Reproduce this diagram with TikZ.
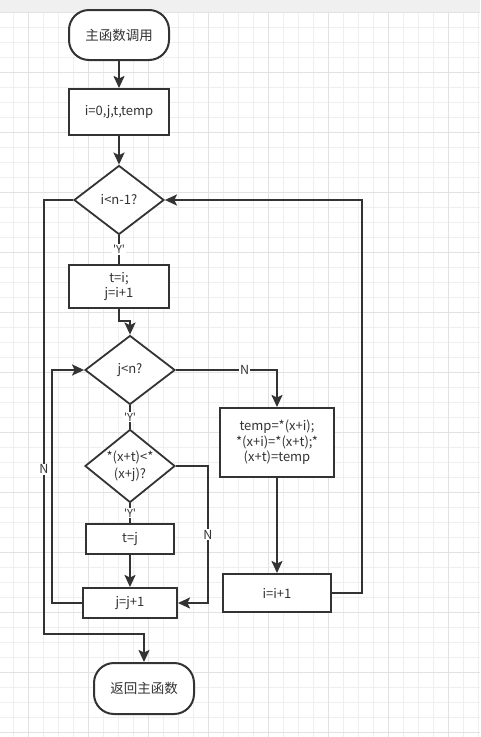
\documentclass[tikz,border=0pt]{standalone}
\usepackage{fontspec}
\setmainfont{Noto Sans CJK SC}
\usetikzlibrary{shapes.geometric, arrows.meta, positioning}
\definecolor{linegray}{HTML}{333333}
\definecolor{gridlight}{HTML}{EFEFEF}
\definecolor{griddark}{HTML}{E2E2E2}
\definecolor{topband}{HTML}{F0F0F0}
\tikzstyle{startstop} = [
    rectangle, 
    rounded corners=20pt, 
    minimum width=100pt, 
    minimum height=50pt,
    text centered, 
    draw=linegray, 
    line width=2pt,
    fill=white,
    text=linegray,
    font=\fontsize{13.5}{16}\selectfont
]
\tikzstyle{process} = [
    rectangle, 
    minimum width=100pt, 
    minimum height=46pt, 
    align=center, 
    draw=linegray, 
    line width=2pt,
    fill=white,
    text=linegray,
    font=\fontsize{13}{15.5}\selectfont
]
\tikzstyle{decision} = [
    diamond, 
    minimum width=90pt, 
    minimum height=69pt, 
    inner sep=-1pt,
    align=center, 
    draw=linegray, 
    line width=1.8pt,
    fill=white,
    text=linegray,
    font=\fontsize{13}{16.5}\selectfont
]
\tikzstyle{arrow} = [line width=2pt, draw=linegray, -{Stealth[length=12pt,width=11pt,inset=2.5pt]}]
\tikzstyle{line} = [line width=2pt, draw=linegray]
\tikzstyle{yeslabel} = [fill=white, inner sep=1pt, text=linegray, font=\fontsize{11}{12}\selectfont]
\tikzstyle{nolabel} = [fill=white, inner sep=1pt, text=linegray, font=\fontsize{12.5}{14}\selectfont]

\begin{document}
\begin{tikzpicture}[x=1pt, y=-1pt, node distance=80pt]

\useasboundingbox (0,0) rectangle (480,737);

% Grid
\fill[white] (0,0) rectangle (480,737);
\fill[topband] (0,0) rectangle (480,12);
\foreach \gx in {13,28,...,478} \draw[gridlight, line width=1pt] (\gx,12) -- (\gx,737);
\foreach \gy in {12,27,...,737} \draw[gridlight, line width=1pt] (0,\gy) -- (480,\gy);
\foreach \gx in {28,88,...,448} \draw[griddark, line width=1pt] (\gx,12) -- (\gx,737);
\foreach \gy in {12,72,...,732} \draw[griddark, line width=1pt] (0,\gy) -- (480,\gy);

% Nodes
\node (start) [startstop] at (119,35) {主函数调用};
\node (init) [process, below of=start, yshift=3pt] {i=0,j,t,temp};
\node (dec1) [decision, below of=init, yshift=-8pt] {i<n-1?};
\node (tset) [process, below of=dec1, yshift=-6.5pt, minimum height=43pt] {t=i;\\ j=i+1};
\node (dec2) [decision, below of=tset, xshift=11pt, yshift=-3.5pt] {j<n?};
\node (dec3) [decision, below of=dec2, yshift=-16pt] {*(x+t)<*\\ (x+j)?};
\node (tj) [process, below of=dec3, yshift=7pt, minimum width=88pt, minimum height=30pt] {t=j};
\node (jinc) [process, below of=tj, yshift=16pt, minimum width=94pt, minimum height=30pt] {j=j+1};
\node (swap) [process, right of=dec2, xshift=67pt, yshift=-72.5pt, minimum width=114pt, minimum height=69pt] {temp=*(x+i);\\ *(x+i)=*(x+t);*\\ (x+t)=temp};
\node (iinc) [process, below of=swap, yshift=-70.5pt, minimum width=108pt, minimum height=38pt] {i=i+1};
\node (stop) [startstop, below of=jinc, xshift=14pt, yshift=-5.5pt, minimum height=51pt] {返回主函数};
\coordinate (exitturn) at (44,634);

% Arrows
\draw [arrow] (start) -- (init);
\draw [arrow] (init) -- (dec1);
\draw [line] (dec1) -- node[yeslabel] {\textquotesingle Y\textquotesingle} (tset);
\draw [arrow] (tset.south) -- ++(0,12) -| (dec2.north);
\draw [line] (dec2) -- node[yeslabel] {\textquotesingle Y\textquotesingle} (dec3);
\draw [line] (dec3) -- node[yeslabel] {\textquotesingle Y\textquotesingle} (tj);
\draw [arrow] (tj) -- (jinc);
\draw [arrow] (dec3.east) -- ++(32,0) |- node[nolabel, pos=0.25] {N} (jinc.east);
\draw [arrow] (jinc.west) -- ++(-30,0) |- (dec2.west);
\draw [arrow] (dec2.east) -| node[nolabel, pos=0.34] {N} (swap.north);
\draw [arrow] (swap) -- (iinc);
\draw [arrow] (iinc.east) -- ++(30,0) |- (dec1.east);
\draw [arrow] (dec1.west) -| node[nolabel, pos=0.81] {N} (exitturn) -| (stop.north);

\end{tikzpicture}
\end{document}
